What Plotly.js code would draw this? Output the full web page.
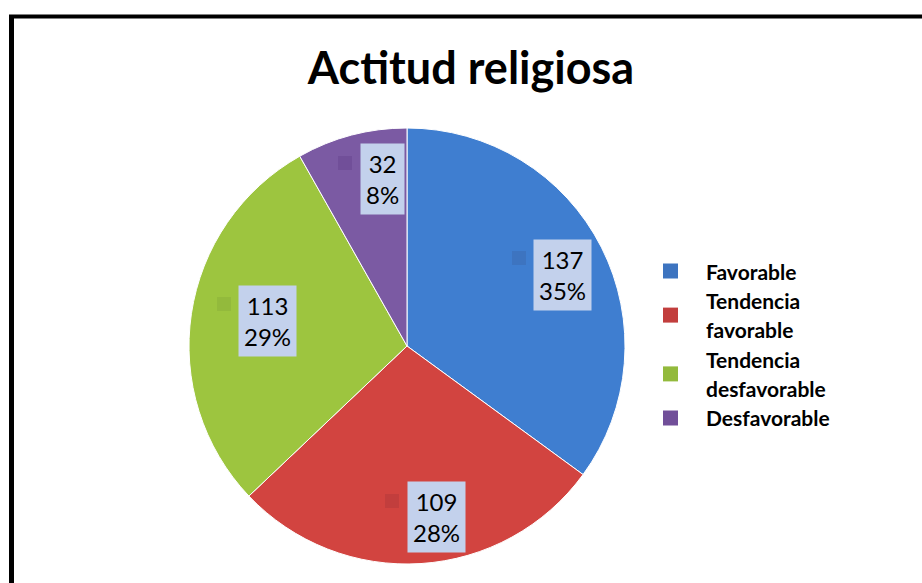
<!DOCTYPE html>
<html><head><meta charset="utf-8">
<script src="https://cdn.plot.ly/plotly-3.0.1.min.js"></script>
<style>html,body{margin:0;padding:0;background:#fff}#c{width:922px;height:583px}</style>
</head><body><div id="c"></div>
<script>
const categories = ["Favorable", "Tendencia favorable", "Tendencia desfavorable", "Desfavorable"];
const legendLines = [["Favorable"], ["Tendencia", "favorable"], ["Tendencia", "desfavorable"], ["Desfavorable"]];
const values = [137, 109, 113, 32];
const percents = ["35%", "28%", "29%", "8%"];
const colors = ["#3f7ed0", "#d24440", "#9dc53f", "#7b5aa3"];
const keyColors = ["#3d74c0", "#c23e3d", "#93ba3c", "#714f99"];

const W = 922, H = 583;
const px = x => x / W, py = y => 1 - y / H;
const FONT = "Lato, 'Liberation Sans', sans-serif";

// label box centers (pixel positions, layout only)
const boxPos = [[562, 275], [436, 517], [267, 321], [382, 179]];
const keyPos = [[519, 258], [392, 501], [224, 304], [345, 163]];

const annotations = [];
const shapes = [];
for (let i = 0; i < values.length; i++) {
  annotations.push({
    xref: "paper", yref: "paper", x: px(boxPos[i][0]), y: py(boxPos[i][1]),
    xanchor: "center", yanchor: "middle", showarrow: false,
    text: values[i] + "<br>" + percents[i],
    font: {family: FONT, size: 24, color: "#000"},
    bgcolor: "#c3d1ec", borderpad: 5, align: "center"
  });
  shapes.push({
    type: "rect", xref: "paper", yref: "paper",
    x0: px(keyPos[i][0] - 7), x1: px(keyPos[i][0] + 7),
    y0: py(keyPos[i][1] + 7), y1: py(keyPos[i][1] - 7),
    fillcolor: keyColors[i], line: {width: 0}
  });
}

// manual legend (layout positions)
let lineY = 271;
const lineStep = 29.4;
for (let i = 0; i < legendLines.length; i++) {
  const n = legendLines[i].length;
  const firstY = lineY;
  legendLines[i].forEach(t => {
    annotations.push({xref: "paper", yref: "paper", x: px(704), y: py(lineY), xanchor: "left", yanchor: "middle",
      showarrow: false, text: "<b>" + t + "</b>", font: {family: FONT, size: 21, color: "#000"}});
    lineY += lineStep;
  });
  const cy = firstY + (n - 1) * lineStep / 2;
  shapes.push({type: "rect", xref: "paper", yref: "paper",
    x0: px(663), x1: px(678), y0: py(cy + 7.5), y1: py(cy - 7.5), fillcolor: keyColors[i], line: {width: 0}});
}

// frame lines
shapes.push({type: "line", xref: "paper", yref: "paper", x0: px(11.5), x1: px(11.5), y0: 0, y1: py(15), line: {color: "#000", width: 5}});
shapes.push({type: "line", xref: "paper", yref: "paper", x0: px(9), x1: 1, y0: py(16.5), y1: py(16.5), line: {color: "#000", width: 4}});

const trace = {
  type: "pie",
  labels: categories,
  values: values,
  sort: false,
  direction: "clockwise",
  rotation: 0,
  textinfo: "none",
  hoverinfo: "label+value+percent",
  marker: {colors: colors, line: {color: "#ffffff", width: 1}},
  domain: {x: [px(189), px(625)], y: [py(564), py(128)]}
};

const layout = {
  width: W, height: H,
  margin: {l: 0, r: 0, t: 0, b: 0},
  paper_bgcolor: "#fff",
  title: {text: "<b>Actitud religiosa</b>", x: px(471), xanchor: "center", y: py(68), yanchor: "middle",
    font: {family: FONT, size: 45, color: "#000"}},
  showlegend: false,
  annotations: annotations,
  shapes: shapes
};

Plotly.newPlot("c", [trace], layout, {displayModeBar: false, staticPlot: true});
</script></body></html>
